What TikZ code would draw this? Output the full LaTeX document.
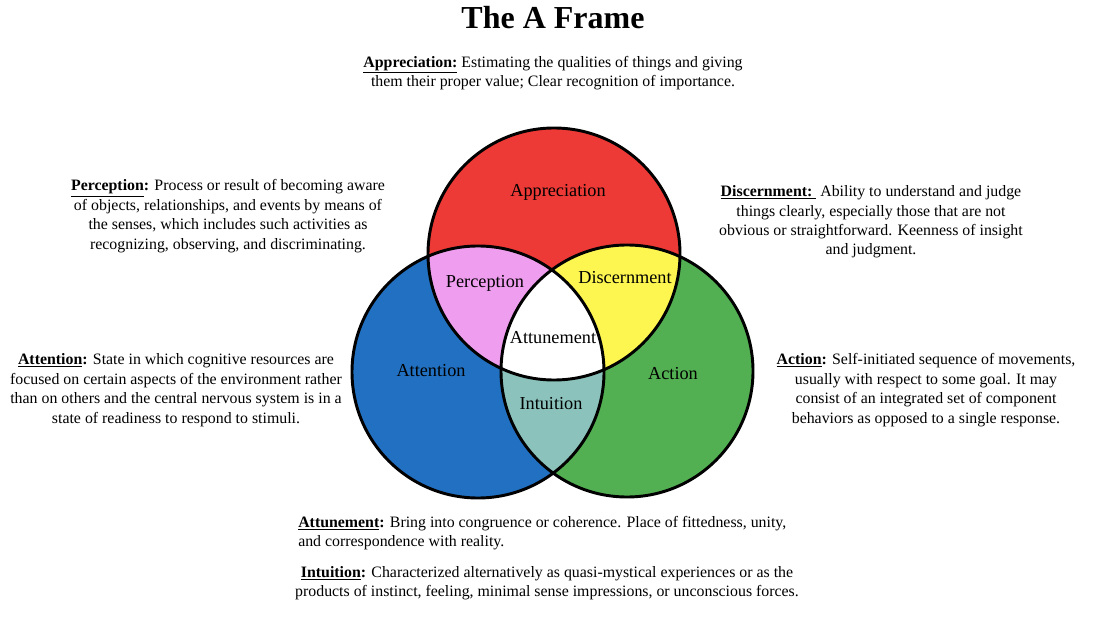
\documentclass[tikz,border=0pt]{standalone}
\usepackage{fontspec}
\setmainfont{Liberation Serif}
\usetikzlibrary{positioning}
\definecolor{red}{RGB}{238,58,54}
\definecolor{blue}{RGB}{33,112,193}
\definecolor{green}{RGB}{82,175,82}
\definecolor{pink}{RGB}{239,157,238}
\definecolor{yellow}{RGB}{254,246,80}
\definecolor{teal}{RGB}{139,195,188}
\newcommand{\term}[1]{\underline{\textbf{#1}}}

\begin{document}
\begin{tikzpicture}[x=.75pt,y=-.75pt,
  ring/.style={line width=2.2pt},
  ringlabel/.style={font=\fontsize{13.7}{16}\selectfont},
  defn/.style={font=\fontsize{11.9}{14.6}\selectfont,align=center,inner sep=0pt}]
\useasboundingbox (0,0) rectangle (1113,623);
\def\rad{126}
\coordinate (cA) at (554,254);
\coordinate (cL) at (478,372);
\coordinate (cR) at (627,371);
\fill[red] (cA) circle (\rad); \fill[blue] (cL) circle (\rad); \fill[green] (cR) circle (\rad);
\begin{scope}
  \clip (cL) circle (\rad); \fill[teal] (cR) circle (\rad);
\end{scope}
\begin{scope}
  \clip (cA) circle (\rad);
  \fill[pink] (cL) circle (\rad); \fill[yellow] (cR) circle (\rad);
  \clip (cL) circle (\rad); \fill[white] (cR) circle (\rad);
\end{scope}
\foreach \c in {cA,cL,cR} \draw[ring] (\c) circle (\rad);
\node[ringlabel] (appr) at (558,192) {Appreciation};
\node[ringlabel] (perc) at (485,283) {Perception};
\node[ringlabel] (disc) at (625,278) {Discernment};
\node[ringlabel] (attu) at (553,338) {Attunement};
\node[ringlabel] (atte) at (431,371) {Attention};
\node[ringlabel] (intu) at (551,404) {Intuition};
\node[ringlabel] (act) at (673,374) {Action};
\node[font=\fontsize{24}{28}\selectfont\bfseries] (title) at (553,18) {The A Frame};
\node[defn] (dappr) at (553,73) {\term{Appreciation:} Estimating the qualities of things and giving\\
  them their proper value; Clear recognition of importance.};
\node[defn] (dperc) at (228,216) {\term{Perception}\textbf{:} Process or result of becoming aware\\
  of objects, relationships, and events by means of\\
  the senses, which includes such activities as\\
  recognizing, observing, and discriminating.};
\node[defn] (ddisc) at (871,222) {\term{Discernment:~} Ability to understand and judge\\
  things clearly, especially those that are not\\
  obvious or straightforward. Keenness of insight\\
  and judgment.};
\node[defn] (datte) at (176,390) {\term{Attention}\textbf{:} State in which cognitive resources are\\
  focused on certain aspects of the environment rather\\
  than on others and the central nervous system is in a\\
  state of readiness to respond to stimuli.};
\node[defn] (dact) at (926,390) {\term{Action}\textbf{:} Self-initiated sequence of movements,\\
  usually with respect to some goal. It may\\
  consist of an integrated set of component\\
  behaviors as opposed to a single response.};
\node[defn,align=left,anchor=north west] (dattu) at (298,516) {\term{Attunement}\textbf{:} Bring into congruence or coherence. Place of fittedness, unity,\\
  and correspondence with reality.};
\node[defn] (dintu) at (547,583) {\term{Intuition}\textbf{:} Characterized alternatively as quasi-mystical experiences or as the\\
  products of instinct, feeling, minimal sense impressions, or unconscious forces.};
\end{tikzpicture}
\end{document}
